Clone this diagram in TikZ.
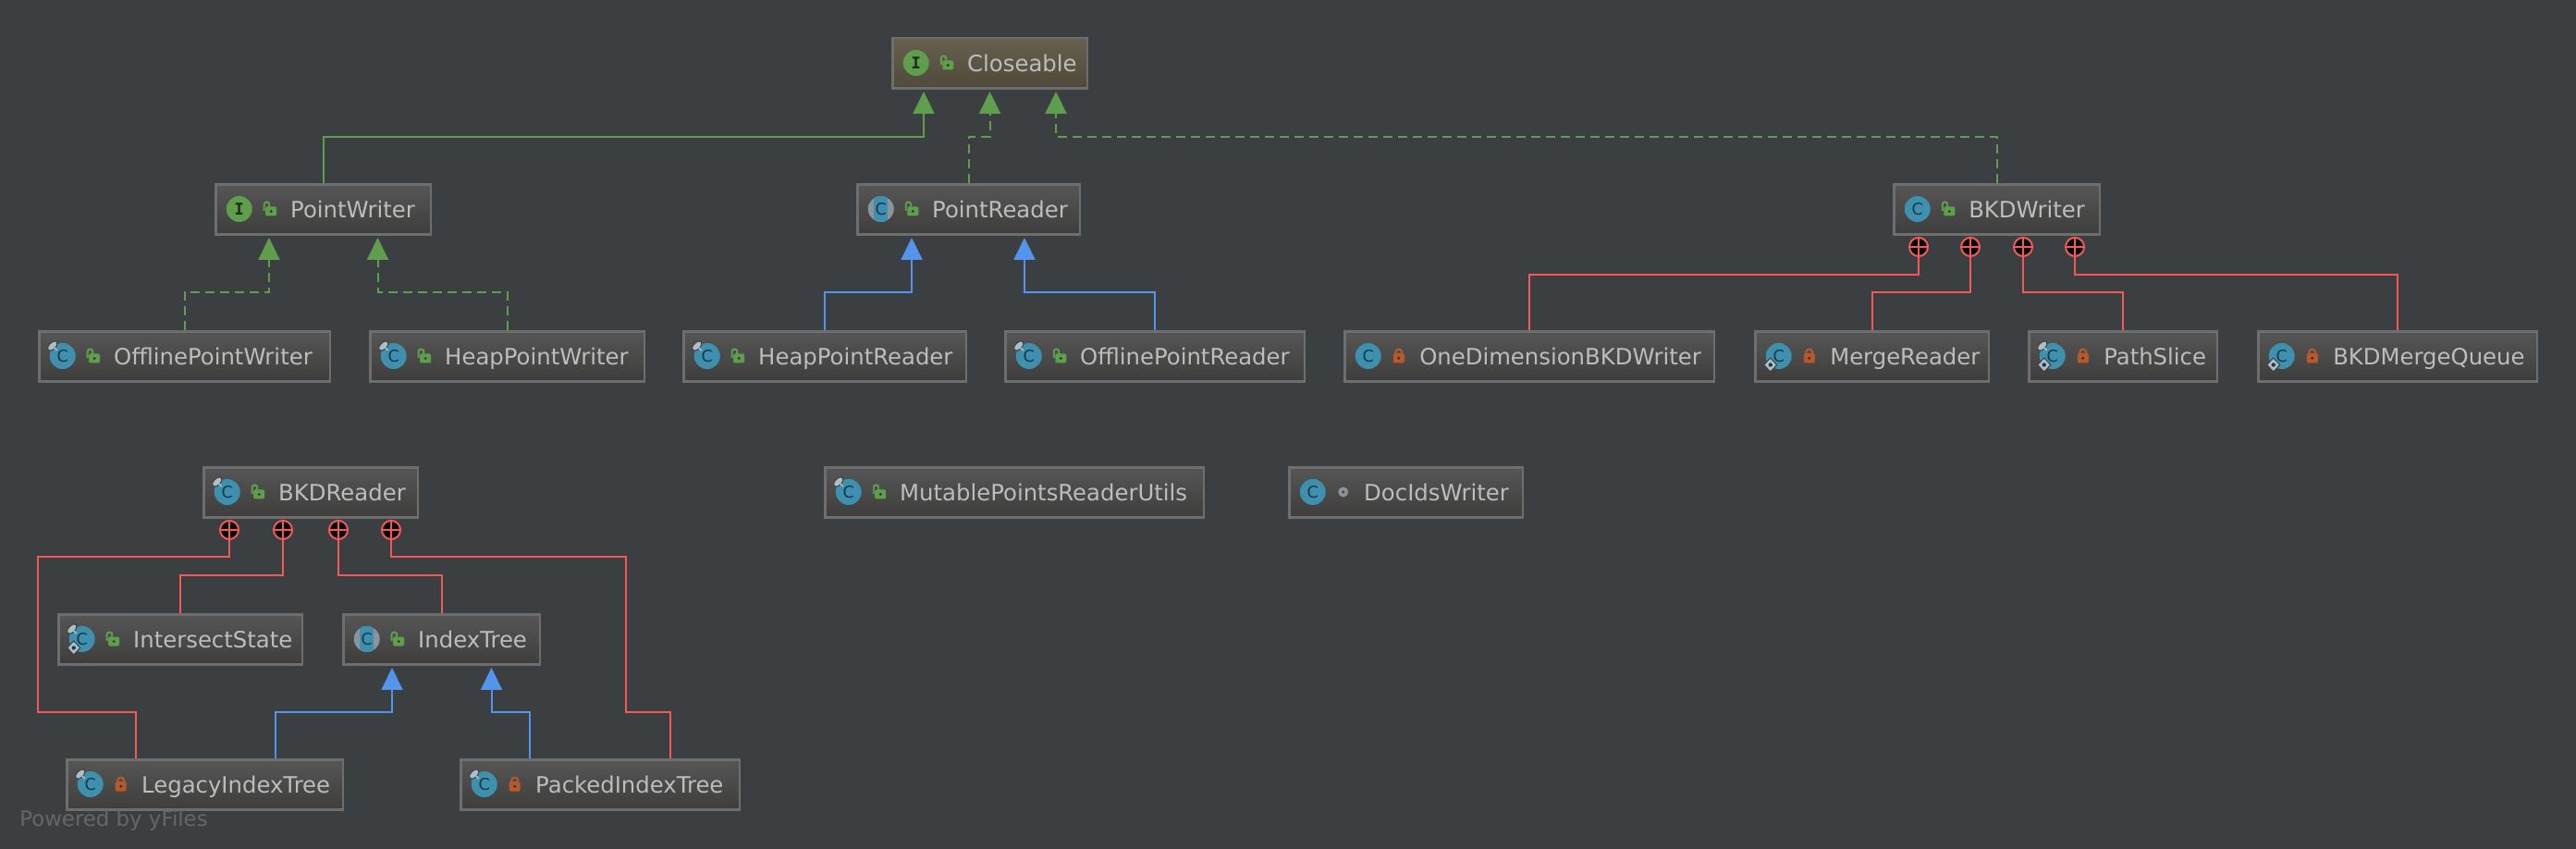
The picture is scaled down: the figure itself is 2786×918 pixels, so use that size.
\documentclass[tikz,border=0pt]{standalone}
\usepackage{fontspec}
\setmainfont{DejaVu Sans}
\newfontfamily\slabfont{DejaVu Sans Mono}
\usetikzlibrary{arrows.meta,calc}

\definecolor{diagrambg}{HTML}{3C3F41}
\definecolor{boxedge}{HTML}{6E6E6E}
\definecolor{labelgray}{HTML}{BDBDBD}
\definecolor{implgreen}{HTML}{5F9E4D}
\definecolor{extblue}{HTML}{5394EC}
\definecolor{nestred}{HTML}{F25A5A}
\definecolor{iconteal}{HTML}{3F8FAE}
\definecolor{icongray}{HTML}{8A949C}
\definecolor{pinlight}{HTML}{AFBDC6}
\definecolor{lockred}{HTML}{B65A2B}

\tikzset{
    classbox/.style={draw=boxedge,line width=0.05cm,inner sep=0pt,
        text=labelgray,font=\fontsize{13.85pt}{16pt}\selectfont,
        text height=0.73cm,text depth=0.36cm},
    heldbox/.style={classbox,top color={rgb,255:red,103;green,96;blue,79},bottom color={rgb,255:red,78;green,73;blue,57}},
    plainbox/.style={classbox,top color={rgb,255:red,86;green,86;blue,86},bottom color={rgb,255:red,62;green,61;blue,60}},
    implements/.style={draw=implgreen,line width=0.04cm,dash pattern=on 0.2cm off 0.12cm,
        -{Triangle[width=0.46cm,length=0.48cm,fill=implgreen]},shorten >=0.04cm},
    inherits/.style={draw=implgreen,line width=0.04cm,
        -{Triangle[width=0.46cm,length=0.48cm,fill=implgreen]},shorten >=0.04cm},
    extends/.style={draw=extblue,line width=0.04cm,
        -{Triangle[width=0.46cm,length=0.48cm,fill=extblue]},shorten >=0.04cm},
    nestline/.style={draw=nestred,line width=0.04cm},
    plusbadge/.style={circle,draw=nestred,fill=black,line width=0.04cm,inner sep=0pt,minimum size=0.4cm},
    iconletter/.style={inner sep=0pt,text=black!60!iconteal,font=\fontsize{10pt}{10pt}\selectfont},
    % class kinds
    pics/cC/.style={code={
        \fill[iconteal] (0,0) circle[radius=14];
        \node[iconletter] (C) at (0,0) {C};
    }},
    pics/cA/.style={code={
        \fill[icongray] (0,0) circle[radius=14];
        \begin{scope}
            \clip (0,0) circle[radius=14];
            \fill[iconteal] (-7.5,-14) rectangle (7.5,14);
        \end{scope}
        \node[iconletter] (C) at (0,0) {C};
    }},
    pics/cI/.style={code={
        \fill[implgreen] (0,0) circle[radius=14];
        \node[iconletter,text=black!70!implgreen,font=\fontsize{10pt}{10pt}\slabfont\bfseries] (C) at (0,0) {I};
    }},
    pics/pin/.style={code={
        \draw[diagrambg,fill=pinlight,line width=0.02cm,rotate=-45] (-15.5,0) ellipse[x radius=3.5,y radius=6.5];
        \draw[pinlight,line width=0.03cm] (-9,-9) -- (-6,-6);
    }},
    pics/dia/.style={code={
        \draw[diagrambg,fill=pinlight,line width=0.02cm] (-9,2) -- (-2,9.5) -- (-9,17) -- (-16,9.5) -- cycle;
        \fill[black!60!iconteal] (-9,9.5) circle[radius=2.2];
    }},
    pics/cP/.style={code={\pic {cC}; \pic {pin};}},
    pics/cD/.style={code={\pic {cC}; \pic {dia};}},
    pics/cPD/.style={code={\pic {cC}; \pic {pin}; \pic {dia};}},
    % access marks
    pics/pub/.style={code={
        \draw[implgreen,line width=0.04cm,rounded corners=0.05cm] (-6,2) -- (-6,-7.5) -- (-0.5,-7.5) -- (-0.5,-2);
        \fill[implgreen,rounded corners=0.03cm] (-4.5,-2.5) rectangle (7.5,7.5);
        \fill[black!60!implgreen] (1.5,2.6) circle[radius=1.6];
    }},
    pics/pri/.style={code={
        \draw[lockred,line width=0.04cm] (-3.5,-2) -- (-3.5,-4) arc[start angle=180,end angle=360,radius=3.5] -- (3.5,-2);
        \fill[lockred,rounded corners=0.03cm] (-6,-3) rectangle (6,7.5);
        \fill[black!60!lockred] (0,2.3) circle[radius=1.6];
    }},
    pics/pkg/.style={code={
        \draw[icongray,line width=0.07cm] (0,0) circle[radius=3.6];
    }},
}

\begin{document}
\begin{tikzpicture}[x=0.02cm,y=-0.02cm]
    % the page
    \fill[diagrambg] (0,0) rectangle (2786,918);
    \useasboundingbox (0,0) rectangle (2786,918);

    % the classes: id/left/right/top/style/icon/access/name
    \foreach \id/\xa/\xb/\ya/\sty/\ico/\acc/\txt in {
        cls/964/1177/40/heldbox/cI/pub/Closeable,
        pwr/232/467/198/plainbox/cI/pub/PointWriter,
        prd/926/1169/198/plainbox/cA/pub/PointReader,
        bwr/2047/2272/198/plainbox/cC/pub/BKDWriter,
        opw/41/358/357/plainbox/cP/pub/OfflinePointWriter,
        hpw/399/698/357/plainbox/cP/pub/HeapPointWriter,
        hpr/738/1046/357/plainbox/cP/pub/HeapPointReader,
        opr/1086/1412/357/plainbox/cP/pub/OfflinePointReader,
        odw/1453/1855/357/plainbox/cC/pri/OneDimensionBKDWriter,
        mrg/1897/2152/357/plainbox/cD/pri/MergeReader,
        pth/2193/2399/357/plainbox/cPD/pri/PathSlice,
        bmq/2441/2745/357/plainbox/cD/pri/BKDMergeQueue,
        brd/219/453/504/plainbox/cP/pub/BKDReader,
        mpu/891/1303/504/plainbox/cP/pub/MutablePointsReaderUtils,
        dcw/1393/1648/504/plainbox/cC/pkg/DocIdsWriter,
        ist/62/328/663/plainbox/cPD/pub/IntersectState,
        itr/370/585/663/plainbox/cA/pub/IndexTree,
        lit/71/372/820/plainbox/cP/pri/LegacyIndexTree,
        pit/497/801/820/plainbox/cP/pri/PackedIndexTree}
    {
        \pgfmathsetmacro\xc{(\xa+\xb)/2}
        \pgfmathsetmacro\yc{\ya+28.5}
        \pgfmathsetlengthmacro\boxw{(\xb-\xa-2.5)*0.02cm}
        \node[\sty] (\id) at (\xc,\yc) {\makebox[\boxw][l]{\hspace{1.62cm}\txt}};
        \fill[boxedge] (\id.south west) rectangle ([yshift=0.06cm]\id.south east);
        \pic (\id ico) at ([xshift=0.535cm,yshift=0.01cm]\id.west) {\ico};
        \pic (\id acc) at ([xshift=1.195cm,yshift=0.01cm]\id.west) {\acc};
    }

    % the arrow ends under the parents and the line ends on top of the children
    \foreach \cid/\dx/\at/\side in {
        cla/-71.5/cls/south,clb/0/cls/south,clc/71.5/cls/south,
        pwa/-58.5/pwr/south,pwb/59/pwr/south,
        pra/-61.5/prd/south,prb/60.5/prd/south,
        ita/-53.5/itr/south,itb/54/itr/south,
        lin/-75/lit/north,lib/76/lit/north,
        pin/-76.5/pit/north,pib/76/pit/north}
        \coordinate (\cid) at ([xshift=\dx*0.02cm]\at.\side);

    % the badges
    \foreach \id/\x/\y in {
        wba/2075/267,wbb/2131/267,wbc/2188/267,wbd/2244/267,
        rba/248/573,rbb/306/573,rbc/366/573,rbd/423/573}
    {
        \node[plusbadge] (\id) at (\x,\y) {};
        \draw[nestline] (\id.west) -- (\id.east) (\id.north) -- (\id.south);
    }

    % up to Closeable
    \draw[inherits] (pwr.north) -- ++(0,-50) -| (cla);
    \draw[implements] (prd.north) -- ++(0,-50) -| (clb);
    \draw[implements] (bwr.north) -- ++(0,-50) -| (clc);

    % up to PointWriter and PointReader
    \draw[implements] (opw.north) -- ++(0,-41) -| (pwa);
    \draw[implements] (hpw.north) -- ++(0,-41) -| (pwb);
    \draw[extends] (hpr.north) -- ++(0,-41) -| (pra);
    \draw[extends] (opr.north) -- ++(0,-41) -| (prb);

    % up to IndexTree
    \draw[extends] (lib) -- ++(0,-50) -| (ita);
    \draw[extends] (pin) -- ++(0,-50) -| (itb);

    % inner classes of BKDWriter
    \draw[nestline] (wba.south) -- ++(0,19.5) -| (odw.north);
    \draw[nestline] (wbb.south) -- ++(0,38.5) -| (mrg.north);
    \draw[nestline] (wbc.south) -- ++(0,38.5) -| (pth.north);
    \draw[nestline] (wbd.south) -- ++(0,19.5) -| (bmq.north);

    % inner classes of BKDReader
    \draw[nestline] (rba.south) -- ++(0,18.5) -- ++(-207.5,0) |- ($(lin)+(0,-50)$) -- (lin);
    \draw[nestline] (rbb.south) -- ++(0,38.5) -| (ist.north);
    \draw[nestline] (rbc.south) -- ++(0,38.5) -| (itr.north);
    \draw[nestline] (rbd.south) -- ++(0,18.5) -- ++(253.5,0) |- ($(pib)+(0,-50)$) -- (pib);

    \node[anchor=base west,inner sep=0pt,text=white!40!black,font=\fontsize{13pt}{16pt}\selectfont] (yfiles) at (21,893) {Powered by yFiles};
\end{tikzpicture}
\end{document}
